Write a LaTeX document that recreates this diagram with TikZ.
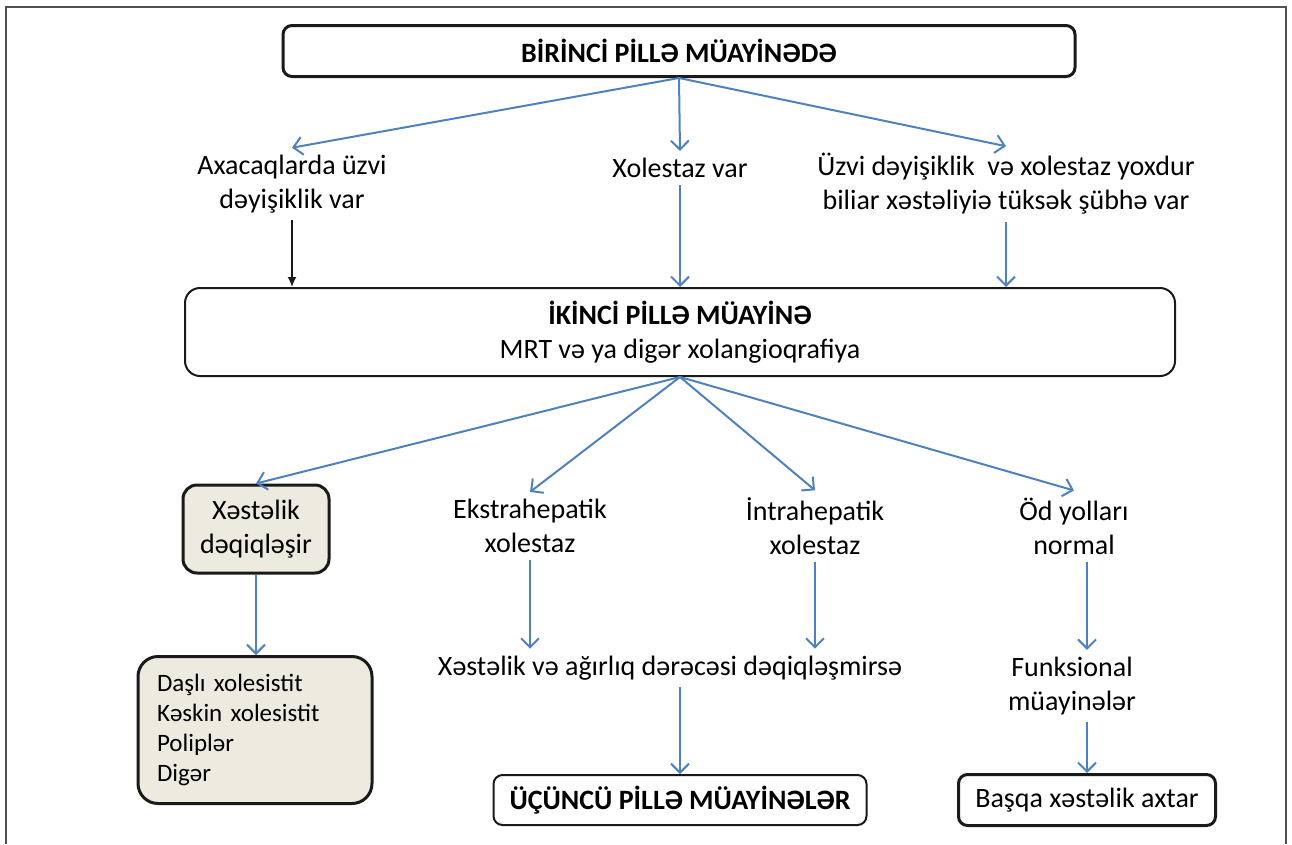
\documentclass[tikz,border=0pt]{standalone}
\usepackage{fontspec}
\setmainfont{Carlito}
\definecolor{FlowBlue}{HTML}{4F81BD}
\definecolor{FlowBlack}{HTML}{1A1A1A}
\definecolor{FlowBeige}{HTML}{EDEAE0}
\definecolor{FrameGray}{HTML}{505050}
\usetikzlibrary{arrows.meta, positioning, calc}
\tikzset{
    stagebox/.style={
        draw=FlowBlack,
        fill=white,
        line width=#1,
        rounded corners=9pt,
        align=center,
        inner sep=4pt,
        font=\fontsize{28}{34}\selectfont
    },
    stagebox/.default=3pt,
    resultbox/.style={
        draw=FlowBlack,
        fill=FlowBeige,
        line width=3pt,
        rounded corners=14pt,
        align=center,
        inner sep=4pt,
        font=\fontsize{28}{34}\selectfont
    },
    lbl/.style={
        align=center,
        inner sep=7pt,
        font=\fontsize{28}{34}\selectfont
    },
    arrow/.style={
        -{Straight Barb[length=9pt,width=18pt,line width=2pt]},
        line width=2pt,
        FlowBlue
    },
    blackarrow/.style={
        -{Latex[length=10pt,width=9pt]},
        line width=1.7pt,
        FlowBlack
    }
}

\begin{document}
\begin{tikzpicture}[x=1pt, y=-1pt]
        \useasboundingbox (0,0) rectangle (1292,844);
        \draw[FrameGray, line width=1.4pt] (6,844) -- (6,7) -- (1286,7) -- (1286,844);

        % First stage
        \node[stagebox, minimum width=792pt, minimum height=51pt] (birinci) at (679,51) {\textbf{BİRİNCİ PİLLƏ MÜAYİNƏDƏ}};
        \node[lbl] (axa) at (292,184) {Axacaqlarda üzvi\\dəyişiklik var};
        \node[lbl] (xol) at (680,168) {Xolestaz var};
        \node[lbl] (uzvi) at (1006,184) {Üzvi dəyişiklik~ və xolestaz yoxdur\\biliar xəstəliyiə tüksək şübhə var};

        \draw[arrow] (birinci.south) -- (axa.north);
        \draw[arrow] (birinci.south) -- (xol.north);
        \draw[arrow] (birinci.south) -- (uzvi.north);

        % Second stage
        \node[stagebox=2pt, rounded corners=15pt, minimum width=990pt, minimum height=88pt] (ikinci) at (680,332) {\textbf{İKİNCİ PİLLƏ MÜAYİNƏ}\\MRT və ya digər xolangioqrafiya};

        \draw[blackarrow] (axa.south) -- (axa.south |- ikinci.north);
        \draw[arrow] (xol.south) -- (xol.south |- ikinci.north);
        \draw[arrow] (uzvi.south) -- (uzvi.south |- ikinci.north);

        % Outcomes
        \node[resultbox, minimum width=146pt, minimum height=88pt] (xest) at (256,529) {Xəstəlik\\dəqiqləşir};
        \node[lbl] (ekstra) at (530,526) {Ekstrahepatik\\xolestaz};
        \node[lbl] (intra) at (815,526) {İntrahepatik\\xolestaz};
        \node[lbl] (od) at (1074,526) {Öd yolları\\normal};

        \draw[arrow] (ikinci.south) -- (xest.north);
        \draw[arrow] (ikinci.south) -- (ekstra.north);
        \draw[arrow] (ikinci.south) -- (intra.north);
        \draw[arrow] (ikinci.south) -- (od.north);

        % Lower row
        \node[resultbox, rounded corners=20pt, minimum width=234pt, minimum height=147pt, text width=196pt, align=left, font=\fontsize{25}{30}\selectfont] (siyahi) at (255,730) {Daşlı xolesistit\\Kəskin xolesistit\\Poliplər\\Digər};
        \node[lbl] (deqiq) at (670,668) {Xəstəlik və ağırlıq dərəcəsi dəqiqləşmirsə};
        \node[lbl] (funk) at (1072,686) {Funksional\\müayinələr};
        \node[stagebox=2pt, minimum width=373pt, minimum height=50pt] (ucuncu) at (680,800) {\textbf{ÜÇÜNCÜ PİLLƏ MÜAYİNƏLƏR}};
        \node[stagebox, minimum width=257pt, minimum height=51pt] (basqa) at (1087,800) {Başqa xəstəlik axtar};

        \draw[arrow] (xest.south) -- (xest.south |- siyahi.north);
        \draw[arrow] (ekstra.south) -- (ekstra.south |- deqiq.north);
        \draw[arrow] (intra.south) -- (intra.south |- deqiq.north);
        \draw[arrow] ([xshift=13pt]od.south) -- ([xshift=13pt]od.south |- funk.north);
        \draw[arrow] (deqiq.south -| ucuncu.north) -- (ucuncu.north);
        \draw[arrow] (funk.south -| basqa.north) -- (basqa.north);
    \end{tikzpicture}
\end{document}
